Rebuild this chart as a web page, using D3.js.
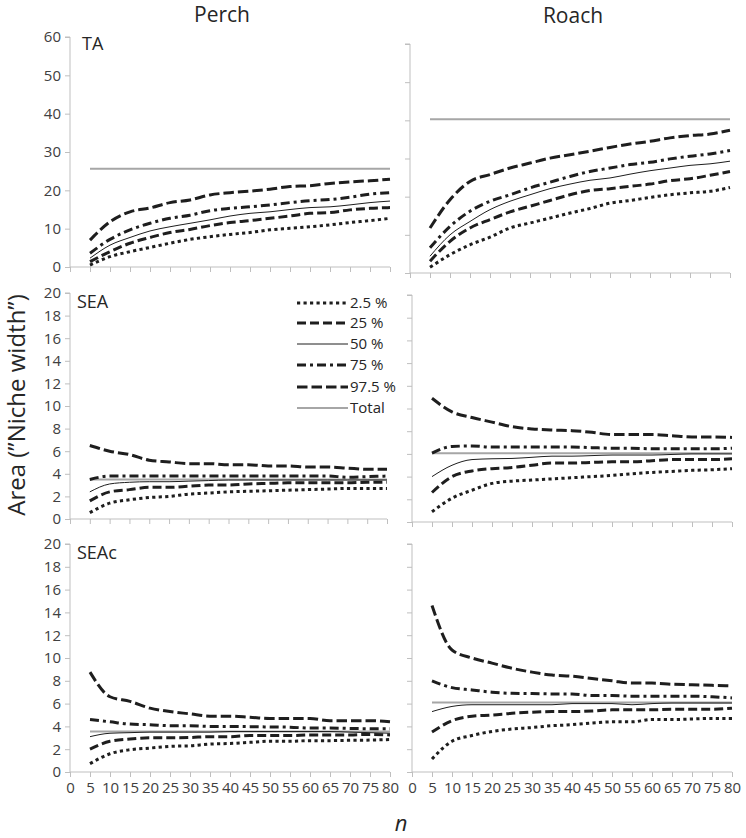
<!DOCTYPE html>
<html>
<head>
<meta charset="utf-8">
<script src="https://cdn.jsdelivr.net/npm/d3@7/dist/d3.min.js"></script>
<style>
  html, body { margin: 0; padding: 0; background: #fff; }
  svg { display: block; font-family: "Open Sans", "Noto Sans", sans-serif; }
</style>
</head>
<body>
<svg id="chart" width="746" height="838"></svg>
<script>
// ---------------- DATA ----------------
const nValues = [5, 10, 15, 20, 25, 30, 35, 40, 45, 50, 55, 60, 65, 70, 75, 80];
const xTickValues = [0, 5, 10, 15, 20, 25, 30, 35, 40, 45, 50, 55, 60, 65, 70, 75, 80];
const speciesNames = ["Perch", "Roach"];
const metricNames = ["TA", "SEA", "SEAc"];
const seriesNames = ["2.5 %", "25 %", "50 %", "75 %", "97.5 %", "Total"];

// Perch – TA
const perchTA_025 = [0.5, 2.7, 4.0, 5.1, 6.2, 7.2, 7.9, 8.5, 9.0, 9.7, 10.1, 10.5, 11.0, 11.6, 12.1, 12.7];
const perchTA_25  = [1.4, 4.0, 6.2, 7.7, 9.0, 9.8, 10.8, 11.6, 12.1, 12.7, 13.3, 14.0, 14.2, 14.9, 15.3, 15.5];
const perchTA_50  = [2.3, 5.7, 7.7, 9.4, 10.5, 11.4, 12.3, 13.3, 14.0, 14.4, 15.0, 15.5, 15.7, 16.2, 16.8, 17.2];
const perchTA_75  = [3.6, 7.2, 9.7, 11.4, 12.7, 13.5, 14.7, 15.3, 15.7, 16.2, 16.8, 17.3, 17.6, 18.2, 19.0, 19.4];
const perchTA_975 = [7.0, 11.8, 14.4, 15.4, 16.8, 17.5, 18.8, 19.4, 19.8, 20.3, 21.0, 21.2, 21.8, 22.2, 22.5, 22.9];

// Roach – TA
const roachTA_025 = [1.5, 4.8, 7.4, 9.4, 11.8, 13.1, 14.4, 15.7, 16.9, 18.3, 19.0, 19.8, 20.5, 21.0, 21.4, 22.4];
const roachTA_25  = [3.1, 8.3, 11.8, 14.0, 16.0, 17.5, 19.0, 20.5, 21.6, 22.1, 22.7, 23.3, 24.2, 24.7, 25.6, 26.6];
const roachTA_50  = [4.4, 10.0, 13.5, 16.6, 18.8, 20.5, 22.1, 23.3, 24.3, 24.9, 25.9, 26.8, 27.5, 28.2, 28.6, 29.3];
const roachTA_75  = [6.6, 12.2, 16.2, 18.8, 20.5, 22.3, 23.8, 25.3, 26.6, 27.5, 28.4, 29.0, 29.9, 30.6, 31.2, 32.1];
const roachTA_975 = [11.8, 19.2, 24.0, 25.8, 27.5, 28.8, 30.1, 31.0, 31.9, 32.9, 33.8, 34.5, 35.4, 36.0, 36.4, 37.4];

// Perch – SEA
const perchSEA_025 = [0.56, 1.4, 1.7, 1.9, 2.0, 2.2, 2.3, 2.4, 2.45, 2.5, 2.55, 2.6, 2.65, 2.7, 2.7, 2.7];
const perchSEA_25  = [1.6, 2.4, 2.6, 2.8, 2.8, 2.9, 3.0, 3.0, 3.1, 3.15, 3.2, 3.2, 3.2, 3.2, 3.25, 3.25];
const perchSEA_50  = [2.4, 3.1, 3.25, 3.3, 3.3, 3.35, 3.4, 3.45, 3.45, 3.45, 3.45, 3.45, 3.45, 3.45, 3.45, 3.45];
const perchSEA_75  = [3.5, 3.8, 3.8, 3.8, 3.8, 3.8, 3.8, 3.8, 3.8, 3.8, 3.8, 3.8, 3.8, 3.7, 3.75, 3.8];
const perchSEA_975 = [6.5, 6.0, 5.7, 5.2, 5.05, 4.9, 4.9, 4.8, 4.8, 4.7, 4.7, 4.6, 4.6, 4.5, 4.4, 4.4];

// Roach – SEA
const roachSEA_025 = [0.9, 2.1, 2.8, 3.4, 3.6, 3.7, 3.8, 3.9, 4.0, 4.1, 4.25, 4.37, 4.46, 4.55, 4.6, 4.7];
const roachSEA_25  = [2.6, 4.0, 4.5, 4.7, 4.8, 5.0, 5.2, 5.2, 5.25, 5.3, 5.3, 5.4, 5.5, 5.5, 5.5, 5.57];
const roachSEA_50  = [4.0, 5.0, 5.5, 5.57, 5.6, 5.7, 5.8, 5.8, 5.85, 5.9, 5.9, 5.9, 5.95, 6.0, 6.0, 6.0];
const roachSEA_75  = [6.07, 6.66, 6.7, 6.6, 6.6, 6.6, 6.6, 6.6, 6.55, 6.5, 6.5, 6.45, 6.45, 6.45, 6.45, 6.5];
const roachSEA_975 = [10.9, 9.7, 9.2, 8.8, 8.4, 8.2, 8.1, 8.05, 7.9, 7.7, 7.7, 7.7, 7.6, 7.5, 7.5, 7.45];

// Perch – SEAc
const perchSEAc_025 = [0.73, 1.6, 1.95, 2.1, 2.25, 2.3, 2.45, 2.5, 2.6, 2.7, 2.7, 2.75, 2.75, 2.78, 2.8, 2.85];
const perchSEAc_25  = [2.0, 2.7, 2.9, 3.0, 3.0, 3.03, 3.1, 3.1, 3.2, 3.2, 3.2, 3.25, 3.25, 3.25, 3.3, 3.25];
const perchSEAc_50  = [3.1, 3.4, 3.45, 3.5, 3.5, 3.5, 3.5, 3.55, 3.55, 3.55, 3.55, 3.55, 3.55, 3.5, 3.45, 3.4];
const perchSEAc_75  = [4.6, 4.4, 4.2, 4.15, 4.06, 4.06, 4.0, 4.0, 3.98, 3.95, 3.93, 3.85, 3.85, 3.82, 3.8, 3.8];
const perchSEAc_975 = [8.76, 6.6, 6.2, 5.6, 5.3, 5.1, 4.9, 4.9, 4.8, 4.7, 4.7, 4.7, 4.5, 4.5, 4.5, 4.4];

// Roach – SEAc
const roachSEAc_025 = [1.14, 2.7, 3.2, 3.56, 3.77, 3.9, 4.06, 4.15, 4.3, 4.4, 4.4, 4.6, 4.6, 4.65, 4.7, 4.7];
const roachSEAc_25  = [3.5, 4.5, 4.9, 5.0, 5.15, 5.25, 5.3, 5.3, 5.35, 5.45, 5.45, 5.45, 5.5, 5.5, 5.5, 5.6];
const roachSEAc_50  = [5.3, 5.75, 5.9, 5.9, 5.9, 5.9, 5.9, 6.0, 6.0, 6.0, 5.9, 6.0, 6.05, 6.05, 6.05, 6.05];
const roachSEAc_75  = [8.0, 7.4, 7.2, 7.0, 6.9, 6.88, 6.85, 6.85, 6.7, 6.7, 6.65, 6.65, 6.65, 6.65, 6.6, 6.5];
const roachSEAc_975 = [14.6, 10.7, 10.0, 9.55, 9.1, 8.76, 8.5, 8.4, 8.2, 8.0, 7.8, 7.8, 7.7, 7.65, 7.6, 7.56];

// Observed total area (horizontal reference line), per metric
const perchTotals = [25.6, 3.5, 3.56];
const roachTotals = [40.3, 6.05, 6.1];

// y-axis extents and tick steps per metric row
const yMaxByMetric = [60, 20, 20];
const yStepByMetric = [10, 2, 2];

// ---------------- LAYOUT ----------------
const svg = d3.select("#chart");
const textColor = "#404040";
const titleColor = "#262626";
const axisColor = "#bfbfbf";
const lineColor = "#1e1e1e";
const totalColor = "#a6a6a6";
const FONT = "'Open Sans', 'Noto Sans', sans-serif";

// panel frames in pixels [x0, x1, yBottom, yTop]
const frames = [
  [[70, 390, 267, 37],  [410, 730, 273, 44]],
  [[70, 387, 519, 293], [412, 732, 522, 295]],
  [[70, 390, 772, 544], [412, 732, 772, 544]]
];

const dataTable = [
  [[perchTA_025, perchTA_25, perchTA_50, perchTA_75, perchTA_975],
   [roachTA_025, roachTA_25, roachTA_50, roachTA_75, roachTA_975]],
  [[perchSEA_025, perchSEA_25, perchSEA_50, perchSEA_75, perchSEA_975],
   [roachSEA_025, roachSEA_25, roachSEA_50, roachSEA_75, roachSEA_975]],
  [[perchSEAc_025, perchSEAc_25, perchSEAc_50, perchSEAc_75, perchSEAc_975],
   [roachSEAc_025, roachSEAc_25, roachSEAc_50, roachSEAc_75, roachSEAc_975]]
];
const totalsBySpecies = [perchTotals, roachTotals];

const styles = [
  { width: 3,   dash: "3.2,3.3",      color: lineColor },   // 2.5 %
  { width: 3,   dash: "9,4",          color: lineColor },   // 25 %
  { width: 1,   dash: null,           color: lineColor },   // 50 %
  { width: 3,   dash: "9,4,3,4",      color: lineColor },   // 75 %
  { width: 3,   dash: "10.5,4",       color: lineColor },   // 97.5 %
  { width: 2,   dash: null,           color: totalColor }   // Total
];

function applyStyle(sel, st) {
  sel.attr("fill", "none")
     .attr("stroke", st.color)
     .attr("stroke-width", st.width)
     .attr("stroke-linejoin", "round");
  if (st.dash) sel.attr("stroke-dasharray", st.dash);
  return sel;
}

const labelPos = [[82, 50], [77, 308], [77, 559]];

for (let r = 0; r < 3; r++) {
  for (let c = 0; c < 2; c++) {
    const [x0, x1, yb, yt] = frames[r][c];
    const x = d3.scaleLinear().domain([0, 80]).range([x0, x1]);
    const y = d3.scaleLinear().domain([0, yMaxByMetric[r]]).range([yb, yt]);
    const g = svg.append("g");

    // y axis
    const yTicks = d3.range(0, yMaxByMetric[r] + 0.001, yStepByMetric[r]);
    const yAxis = d3.axisLeft(y).tickValues(yTicks).tickSize(5).tickPadding(4)
      .tickFormat(c === 0 ? d3.format("d") : () => "");
    const ya = g.append("g").attr("transform", `translate(${x0},0)`).call(yAxis);
    ya.select(".domain").attr("stroke", axisColor).attr("d", `M-5,${yt}H0V${yb}`);
    ya.selectAll(".tick line").attr("stroke", axisColor);
    ya.selectAll(".tick text").attr("fill", textColor).style("font-size", "15px")
      .style("font-family", FONT);

    // x axis
    const xAxis = d3.axisBottom(x).tickValues(xTickValues).tickSize(5).tickPadding(5)
      .tickFormat(r === 2 ? d3.format("d") : () => "");
    const xa = g.append("g").attr("transform", `translate(0,${yb})`).call(xAxis);
    xa.select(".domain").attr("stroke", axisColor).attr("d", `M${x0},0H${x1}`);
    xa.selectAll(".tick line").attr("stroke", axisColor);
    xa.selectAll(".tick text").attr("fill", textColor).style("font-size", "15px")
      .style("font-family", FONT);

    // total line
    const tot = totalsBySpecies[c][r];
    const totLine = d3.line().x(d => x(d)).y(() => y(tot));
    applyStyle(g.append("path").datum([nValues[0], nValues[nValues.length - 1]]).attr("d", totLine), styles[5]);

    // percentile lines
    const line = d3.line().x((d, i) => x(nValues[i])).y(d => y(d)).curve(d3.curveMonotoneX);
    [2, 0, 1, 3, 4].forEach(k => {
      applyStyle(g.append("path").datum(dataTable[r][c][k]).attr("d", line), styles[k]);
    });

    // metric label
    if (c === 0) {
      g.append("text").attr("x", labelPos[r][0]).attr("y", labelPos[r][1])
        .attr("fill", titleColor).style("font-size", "18px").text(metricNames[r]);
    }
  }
}

// column titles
svg.append("text").attr("x", 222).attr("y", 22).attr("text-anchor", "middle")
  .attr("fill", titleColor).style("font-size", "21px").text(speciesNames[0]);
svg.append("text").attr("x", 573).attr("y", 23).attr("text-anchor", "middle")
  .attr("fill", titleColor).style("font-size", "21px").text(speciesNames[1]);

// y title
svg.append("text").attr("transform", "translate(25,405) rotate(-90)")
  .attr("text-anchor", "middle").attr("fill", titleColor).style("font-size", "24px")
  .text("Area (\u201DNiche width\u201D)");

// x title
svg.append("text").attr("x", 401).attr("y", 831).attr("text-anchor", "middle")
  .attr("fill", titleColor).style("font-size", "22px").style("font-style", "italic").text("n");

// legend
const legend = svg.append("g");
const legendRows = [303, 323, 344, 365, 387, 408];
seriesNames.forEach((name, k) => {
  const ly = legendRows[k];
  applyStyle(legend.append("path").attr("d", d3.line()([[297, ly], [348, ly]])), styles[k]);
  legend.append("text").attr("x", 350).attr("y", ly).attr("dy", "0.35em")
    .attr("fill", titleColor).style("font-size", "15px").text(name);
});
</script>
</body>
</html>
